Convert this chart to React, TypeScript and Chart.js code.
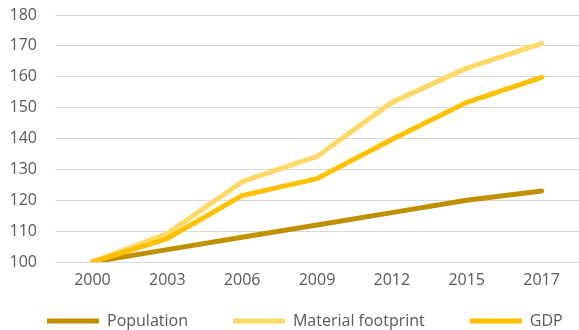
import React, { useEffect, useRef } from "react";
import { Chart, registerables } from "chart.js";

Chart.register(...registerables);

const years = ["2000", "2003", "2006", "2009", "2012", "2015", "2017"];
const population = [100, 104, 108, 112, 116, 120, 123];
const materialFootprint = [100, 109.2, 126, 134.2, 151.7, 162.8, 170.8];
const gdp = [100, 107.6, 121.5, 127, 139.7, 151.7, 159.8];

const FONT = "'Open Sans', sans-serif";
const LEGEND_PAD = 45;
const EXTRA = 200;

const legendTweak = {
  id: "legendTweak",
  afterInit(chart: any) {
    const lg: any = chart.legend;
    if (!lg || lg.__tweaked) return;
    lg.__tweaked = true;
    const origFit = lg.fit.bind(lg);
    lg.fit = function () {
      const mw = this.maxWidth;
      this.maxWidth = mw + EXTRA;
      origFit();
      this.maxWidth = mw;
      this.width = Math.min(this.width, mw);
      this.height -= LEGEND_PAD;
    };
    const origDraw = lg.draw.bind(lg);
    lg.draw = function (...args: any[]) {
      this.top -= LEGEND_PAD;
      this.right += EXTRA;
      origDraw(...args);
      this.right -= EXTRA;
      this.top += LEGEND_PAD;
    };
  },
};

export default function App() {
  const ref = useRef<HTMLCanvasElement | null>(null);
  useEffect(() => {
    if (!ref.current) return;
    const mk = (label: string, data: number[], color: string, order: number) => ({
      label,
      data,
      borderColor: color,
      backgroundColor: color,
      borderWidth: 5,
      pointRadius: 0,
      pointHoverRadius: 0,
      tension: 0,
      borderCapStyle: "round" as const,
      borderJoinStyle: "round" as const,
      order,
    });
    const chart = new Chart(ref.current, {
      type: "line",
      data: {
        labels: years,
        datasets: [
          mk("Population", population, "#BF9000", 3),
          mk("Material footprint", materialFootprint, "#FFD966", 2),
          mk("GDP", gdp, "#FFC000", 1),
        ],
      },
      plugins: [legendTweak],
      options: {
        animation: false,
        responsive: false,
        maintainAspectRatio: false,
        layout: { padding: { top: 15, left: 2, right: 0, bottom: 0 } },
        plugins: {
          tooltip: { enabled: false },
          legend: {
            position: "bottom",
            align: "start",
            labels: {
              usePointStyle: true,
              pointStyle: "line",
              pointStyleWidth: 52,
              boxHeight: 16,
              padding: LEGEND_PAD,
              color: "#595959",
              font: { family: FONT, size: 16 },
              sort: (a: any, b: any) => a.datasetIndex - b.datasetIndex,
            },
          },
        },
        scales: {
          x: {
            offset: true,
            grid: { display: false },
            border: { display: false },
            ticks: {
              color: "#595959",
              font: { family: FONT, size: 16 },
              padding: 1,
              maxRotation: 0,
            },
            afterFit(scale: any) {
              scale.height = 51;
            },
          },
          y: {
            min: 100,
            max: 180,
            border: { display: false },
            grid: { color: "#D9D9D9", lineWidth: 1, drawTicks: false },
            ticks: {
              stepSize: 10,
              color: "#595959",
              font: { family: FONT, size: 16 },
              padding: 18,
            },
            afterFit(scale: any) {
              scale.width = 53;
              scale.paddingTop = 0;
              scale.paddingBottom = 0;
            },
          },
        },
      },
    });
    return () => chart.destroy();
  }, []);
  return (
    <div style={{ position: "fixed", left: 0, top: 0, width: 579, height: 339, background: "#fff" }}>
      <canvas ref={ref} width={579} height={339} style={{ display: "block" }} />
    </div>
  );
}
